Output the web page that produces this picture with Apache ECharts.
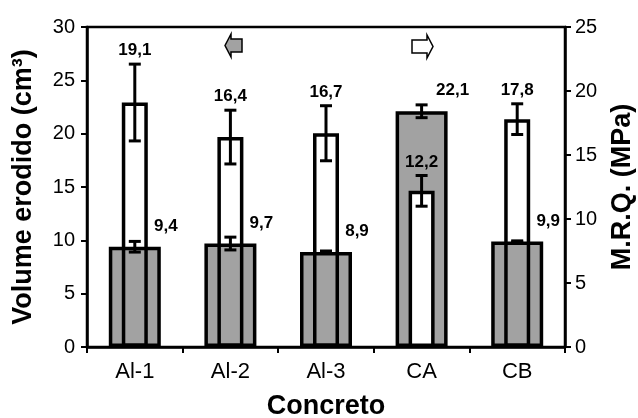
<!DOCTYPE html>
<html>
<head>
<meta charset="utf-8">
<script src="https://cdn.jsdelivr.net/npm/echarts@6/dist/echarts.min.js"></script>
<style>html,body{margin:0;padding:0;background:#fff}#c{width:638px;height:418px}</style>
</head>
<body>
<div id="c"></div>
<script>
const categories = ['Al-1', 'Al-2', 'Al-3', 'CA', 'CB'];
const volume = [9.4, 9.7, 8.9, 22.1, 9.9];
const volumeErr = [0.5, 0.6, 0.1, 0.6, 0.05];
const mrq = [19.1, 16.4, 16.7, 12.2, 17.8];
const mrqErr = [3.0, 2.1, 2.15, 1.2, 1.2];
const leftAxis = { min: 0, max: 30, interval: 5 };
const rightAxis = { min: 0, max: 25, interval: 5 };
const rightAxisName = 'M.R.Q. (MPa)';

const FONT = '"Liberation Sans", Arial, Helvetica, sans-serif';
const GRAY = '#a2a2a2';
const fmt = v => v.toFixed(1).replace('.', ',');

const chart = echarts.init(document.getElementById('c'), null, { renderer: 'canvas' });

function errRenderer(labelDx, labelMode) {
  return function (params, api) {
    const x = api.value(0), v = api.value(1), e = api.value(2);
    const top = api.coord([x, v + e]);
    const bot = api.coord([x, v - e]);
    const base = api.coord([x, v]);
    const cx = top[0];
    const cap = 6;
    const ly = labelMode === 'bar' ? base[1] - 12 : top[1] - 5;
    return {
      type: 'group',
      children: [
        { type: 'line', shape: { x1: cx, y1: top[1], x2: cx, y2: bot[1] }, style: { stroke: '#000', lineWidth: 3 } },
        { type: 'line', shape: { x1: cx - cap, y1: top[1], x2: cx + cap, y2: top[1] }, style: { stroke: '#000', lineWidth: 3 } },
        { type: 'line', shape: { x1: cx - cap, y1: bot[1], x2: cx + cap, y2: bot[1] }, style: { stroke: '#000', lineWidth: 3 } },
        { type: 'text', style: { text: fmt(v), x: cx + labelDx, y: ly, textAlign: 'center', textVerticalAlign: 'bottom', font: 'bold 17px ' + FONT, fill: '#000' } }
      ]
    };
  };
}

const axisLineStyle = { show: true, lineStyle: { color: '#000', width: 2.5 } };
const axisTickStyle = { show: true, length: 6, lineStyle: { color: '#000', width: 2 } };

const option = {
  animation: false,
  backgroundColor: '#fff',
  grid: { left: 87, right: 73, top: 27, bottom: 71, containLabel: false, outerBoundsMode: 'none', show: true, borderColor: '#000', borderWidth: 2.5, backgroundColor: 'transparent' },
  xAxis: [
    {
      type: 'category', data: categories,
      axisLine: axisLineStyle, axisTick: axisTickStyle,
      axisLabel: { color: '#000', fontSize: 22, fontFamily: FONT, margin: 14 },
      name: 'Concreto', nameLocation: 'middle', nameGap: 46,
      nameTextStyle: { color: '#000', fontSize: 27, fontWeight: 'bold', fontFamily: FONT }
    },
    { type: 'category', data: categories, show: false }
  ],
  yAxis: [
    {
      type: 'value', min: leftAxis.min, max: leftAxis.max, interval: leftAxis.interval,
      axisLine: axisLineStyle, axisTick: axisTickStyle, splitLine: { show: false },
      axisLabel: { color: '#000', fontSize: 20, fontFamily: FONT, margin: 12 },
      name: 'Volume erodido (cm³)', nameLocation: 'middle', nameGap: 50, nameRotate: 90,
      nameTextStyle: { color: '#000', fontSize: 27, fontWeight: 'bold', fontFamily: FONT }
    },
    {
      type: 'value', position: 'right', min: rightAxis.min, max: rightAxis.max, interval: rightAxis.interval,
      axisLine: axisLineStyle, axisTick: axisTickStyle, splitLine: { show: false },
      axisLabel: { color: '#000', fontSize: 20, fontFamily: FONT, margin: 10 }
    }
  ],
  series: [
    {
      type: 'bar', name: 'Volume', xAxisIndex: 0, yAxisIndex: 0, barWidth: 52,
      data: volume,
      itemStyle: { color: GRAY, borderColor: '#000', borderWidth: 3.5 },
      silent: true
    },
    {
      type: 'bar', name: 'MRQ', xAxisIndex: 1, yAxisIndex: 1, barWidth: 26,
      data: mrq.map((v, i) => ({
        value: v,
        itemStyle: { color: (v * leftAxis.max / rightAxis.max) < volume[i] ? '#fff' : 'rgba(255,255,255,0)' }
      })),
      itemStyle: { borderColor: '#000', borderWidth: 3.5 },
      silent: true
    },
    {
      type: 'custom', xAxisIndex: 0, yAxisIndex: 0,
      renderItem: errRenderer(31, 'bar'),
      data: volume.map((v, i) => [i, v, volumeErr[i]]),
      silent: true, z: 5
    },
    {
      type: 'custom', xAxisIndex: 1, yAxisIndex: 1,
      renderItem: errRenderer(0, 'err'),
      data: mrq.map((v, i) => [i, v, mrqErr[i]]),
      silent: true, z: 5
    }
  ],
  graphic: [
    {
      type: 'polygon',
      shape: { points: [[225, 45.5], [231, 34], [231, 39], [242, 39], [242, 52], [231, 52], [231, 57]] },
      style: { fill: GRAY, stroke: '#000', lineWidth: 1.5 }
    },
    {
      type: 'polygon',
      shape: { points: [[412, 40], [427, 40], [427, 35], [433, 46.5], [427, 58], [427, 53], [412, 53]] },
      style: { fill: '#fff', stroke: '#000', lineWidth: 1.5 }
    },
    {
      type: 'text', x: 623, y: 187, rotation: Math.PI / 2,
      style: { text: rightAxisName, align: 'center', verticalAlign: 'middle', textAlign: 'center', textVerticalAlign: 'middle', font: 'bold 27px ' + FONT, fill: '#000' }
    }
  ]
};
chart.setOption(option);
</script>
</body>
</html>
